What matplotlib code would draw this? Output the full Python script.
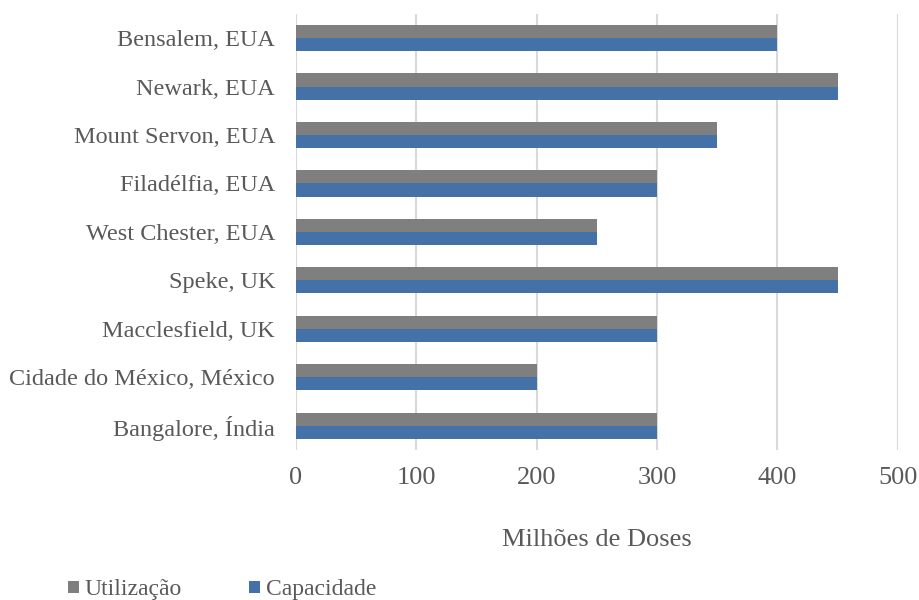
import matplotlib.pyplot as plt
import numpy as np

# sites and production volumes (millions of doses)
sites = ["Bensalem, EUA", "Newark, EUA", "Mount Servon, EUA", "Filadélfia, EUA",
         "West Chester, EUA", "Speke, UK", "Macclesfield, UK",
         "Cidade do México, México", "Bangalore, Índia"]
utilizacao = [400, 450, 350, 300, 250, 450, 300, 200, 300]
capacidade = [400, 450, 350, 300, 250, 450, 300, 200, 300]
x_ticks = [0, 100, 200, 300, 400, 500]

plt.rcParams['font.family'] = ['Liberation Serif', 'DejaVu Serif']
txt = '#595959'

fig = plt.figure(figsize=(9.19, 6), dpi=100)
ax = fig.add_axes([0.322, 0.25, 0.655, 0.727])

y = np.arange(len(sites))
h = 0.27
ax.barh(y - h / 2, utilizacao, height=h, color='#7f7f7f', label='Utilização', zorder=3)
ax.barh(y + h / 2, capacidade, height=h, color='#4472a8', label='Capacidade', zorder=3)

ax.set_ylim(len(sites) - 0.5, -0.5)
ax.set_xlim(0, 500)
ax.set_xticks(x_ticks)
ax.set_yticks(y)
ax.set_yticklabels(sites)
ax.tick_params(axis='y', length=0, pad=15, labelsize=17.5, labelcolor=txt)
ax.tick_params(axis='x', length=0, pad=12, labelsize=19, labelcolor=txt)
ax.grid(axis='x', color='#d9d9d9', linewidth=1.5, zorder=0)
for s in ax.spines.values():
    s.set_visible(False)

ax.set_xlabel('Milhões de Doses', fontsize=19, color=txt, labelpad=29)

fig.legend(loc='lower left', bbox_to_anchor=(0.051, -0.036), ncol=2, frameon=False,
           fontsize=17, labelcolor=txt, handlelength=0.45, handleheight=0.45,
           handletextpad=0.25, columnspacing=2.85)

fig.savefig('out.png', dpi=100)
